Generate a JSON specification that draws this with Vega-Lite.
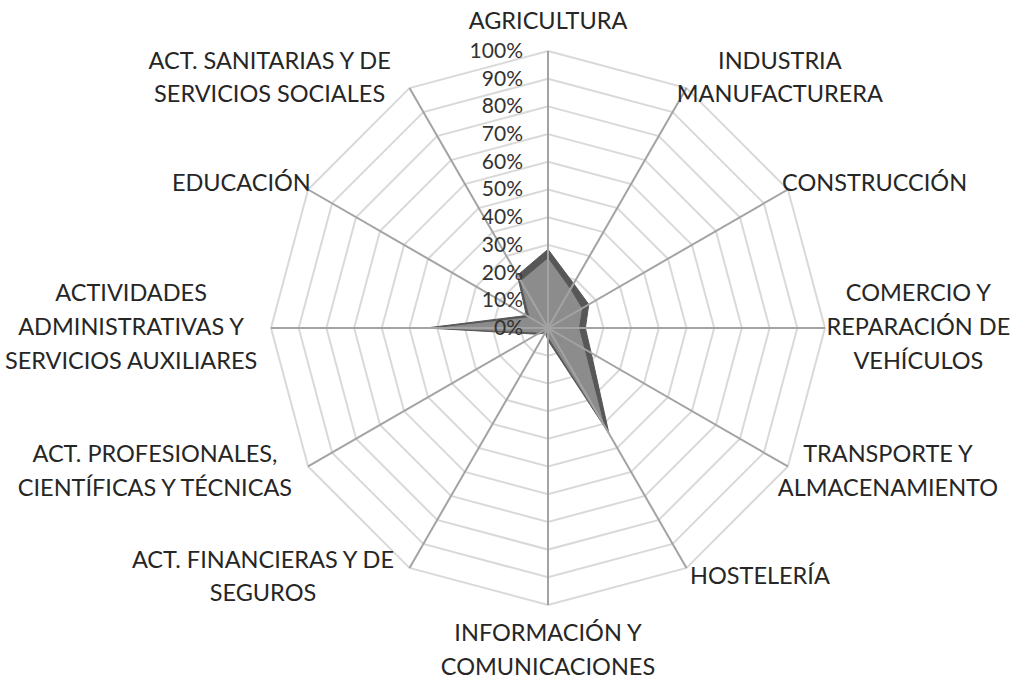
{
  "$schema": "https://vega.github.io/schema/vega-lite/v6.json",
  "width": 1024,
  "height": 680,
  "autosize": {"type": "none"},
  "padding": 0,
  "background": "white",
  "config": {"view": {"stroke": null}},
  "datasets": {
    "cats": [
      {"idx": 0, "category": "AGRICULTURA"},
      {"idx": 1, "category": "INDUSTRIA MANUFACTURERA"},
      {"idx": 2, "category": "CONSTRUCCIÓN"},
      {"idx": 3, "category": "COMERCIO Y REPARACIÓN DE VEHÍCULOS"},
      {"idx": 4, "category": "TRANSPORTE Y ALMACENAMIENTO"},
      {"idx": 5, "category": "HOSTELERÍA"},
      {"idx": 6, "category": "INFORMACIÓN Y COMUNICACIONES"},
      {"idx": 7, "category": "ACT. FINANCIERAS Y DE SEGUROS"},
      {"idx": 8, "category": "ACT. PROFESIONALES, CIENTÍFICAS Y TÉCNICAS"},
      {"idx": 9, "category": "ACTIVIDADES ADMINISTRATIVAS Y SERVICIOS AUXILIARES"},
      {"idx": 10, "category": "EDUCACIÓN"},
      {"idx": 11, "category": "ACT. SANITARIAS Y DE SERVICIOS SOCIALES"}
    ],
    "series": [
      {"idx": 0, "serie": "A", "value": 28.4},
      {"idx": 1, "serie": "A", "value": 18.5},
      {"idx": 2, "serie": "A", "value": 17},
      {"idx": 3, "serie": "A", "value": 13.5},
      {"idx": 4, "serie": "A", "value": 18},
      {"idx": 5, "serie": "A", "value": 44},
      {"idx": 6, "serie": "A", "value": 4.5},
      {"idx": 7, "serie": "A", "value": 2},
      {"idx": 8, "serie": "A", "value": 4.5},
      {"idx": 9, "serie": "A", "value": 44},
      {"idx": 10, "serie": "A", "value": 9},
      {"idx": 11, "serie": "A", "value": 22},
      {"idx": 0, "serie": "B", "value": 25},
      {"idx": 1, "serie": "B", "value": 16},
      {"idx": 2, "serie": "B", "value": 14},
      {"idx": 3, "serie": "B", "value": 11},
      {"idx": 4, "serie": "B", "value": 15},
      {"idx": 5, "serie": "B", "value": 40},
      {"idx": 6, "serie": "B", "value": 3},
      {"idx": 7, "serie": "B", "value": 1.5},
      {"idx": 8, "serie": "B", "value": 3},
      {"idx": 9, "serie": "B", "value": 39},
      {"idx": 10, "serie": "B", "value": 7.5},
      {"idx": 11, "serie": "B", "value": 19.5}
    ],
    "rings": [
      {"level": 10, "k": [0,1,2,3,4,5,6,7,8,9,10,11]},
      {"level": 20, "k": [0,1,2,3,4,5,6,7,8,9,10,11]},
      {"level": 30, "k": [0,1,2,3,4,5,6,7,8,9,10,11]},
      {"level": 40, "k": [0,1,2,3,4,5,6,7,8,9,10,11]},
      {"level": 50, "k": [0,1,2,3,4,5,6,7,8,9,10,11]},
      {"level": 60, "k": [0,1,2,3,4,5,6,7,8,9,10,11]},
      {"level": 70, "k": [0,1,2,3,4,5,6,7,8,9,10,11]},
      {"level": 80, "k": [0,1,2,3,4,5,6,7,8,9,10,11]},
      {"level": 90, "k": [0,1,2,3,4,5,6,7,8,9,10,11]},
      {"level": 100, "k": [0,1,2,3,4,5,6,7,8,9,10,11]}
    ],
    "ticks": [
      {"level": 0, "label": "0%"},
      {"level": 10, "label": "10%"},
      {"level": 20, "label": "20%"},
      {"level": 30, "label": "30%"},
      {"level": 40, "label": "40%"},
      {"level": 50, "label": "50%"},
      {"level": 60, "label": "60%"},
      {"level": 70, "label": "70%"},
      {"level": 80, "label": "80%"},
      {"level": 90, "label": "90%"},
      {"level": 100, "label": "100%"}
    ],
    "labels": [
      {"idx": 0, "line": 0, "text": "AGRICULTURA"},
      {"idx": 1, "line": 0, "text": "INDUSTRIA"},
      {"idx": 1, "line": 1, "text": "MANUFACTURERA"},
      {"idx": 2, "line": 0, "text": "CONSTRUCCIÓN"},
      {"idx": 3, "line": 0, "text": "COMERCIO Y"},
      {"idx": 3, "line": 1, "text": "REPARACIÓN DE"},
      {"idx": 3, "line": 2, "text": "VEHÍCULOS"},
      {"idx": 4, "line": 0, "text": "TRANSPORTE Y"},
      {"idx": 4, "line": 1, "text": "ALMACENAMIENTO"},
      {"idx": 5, "line": 0, "text": "HOSTELERÍA"},
      {"idx": 6, "line": 0, "text": "INFORMACIÓN Y"},
      {"idx": 6, "line": 1, "text": "COMUNICACIONES"},
      {"idx": 7, "line": 0, "text": "ACT. FINANCIERAS Y DE"},
      {"idx": 7, "line": 1, "text": "SEGUROS"},
      {"idx": 8, "line": 0, "text": "ACT. PROFESIONALES,"},
      {"idx": 8, "line": 1, "text": "CIENTÍFICAS Y TÉCNICAS"},
      {"idx": 9, "line": 0, "text": "ACTIVIDADES"},
      {"idx": 9, "line": 1, "text": "ADMINISTRATIVAS Y"},
      {"idx": 9, "line": 2, "text": "SERVICIOS AUXILIARES"},
      {"idx": 10, "line": 0, "text": "EDUCACIÓN"},
      {"idx": 11, "line": 0, "text": "ACT. SANITARIAS Y DE"},
      {"idx": 11, "line": 1, "text": "SERVICIOS SOCIALES"}
    ]
  },
  "layer": [
    {
      "data": {"name": "rings"},
      "transform": [
        {"flatten": ["k"]},
        {"calculate": "datum.level*sin(datum.k*PI/6)", "as": "x"},
        {"calculate": "datum.level*cos(datum.k*PI/6)", "as": "y"}
      ],
      "mark": {"type": "line", "interpolate": "linear-closed", "stroke": "#d9d9d9", "strokeWidth": 2},
      "encoding": {
        "x": {"field": "x", "type": "quantitative", "scale": {"domain": [-197.83, 171.84], "nice": false, "zero": false}, "axis": null},
        "y": {"field": "y", "type": "quantitative", "scale": {"domain": [-127.08, 118.41], "nice": false, "zero": false}, "axis": null},
        "detail": {"field": "level", "type": "nominal"},
        "order": {"field": "k", "type": "quantitative"}
      }
    },
    {
      "data": {"name": "series"},
      "transform": [
        {"filter": "datum.serie == 'A'"},
        {"calculate": "datum.value*sin(datum.idx*PI/6)", "as": "x"},
        {"calculate": "datum.value*cos(datum.idx*PI/6)", "as": "y"}
      ],
      "mark": {"type": "line", "interpolate": "linear-closed", "fill": "#575757", "stroke": "#575757", "strokeWidth": 1},
      "encoding": {
        "x": {"field": "x", "type": "quantitative", "scale": {"domain": [-197.83, 171.84], "nice": false, "zero": false}, "axis": null},
        "y": {"field": "y", "type": "quantitative", "scale": {"domain": [-127.08, 118.41], "nice": false, "zero": false}, "axis": null},
        "order": {"field": "idx", "type": "quantitative"}
      }
    },
    {
      "data": {"name": "series"},
      "transform": [
        {"filter": "datum.serie == 'B'"},
        {"calculate": "datum.value*sin(datum.idx*PI/6)", "as": "x"},
        {"calculate": "datum.value*cos(datum.idx*PI/6)", "as": "y"}
      ],
      "mark": {"type": "line", "interpolate": "linear-closed", "fill": "#8c8c8c", "stroke": "#8c8c8c", "strokeWidth": 1},
      "encoding": {
        "x": {"field": "x", "type": "quantitative", "scale": {"domain": [-197.83, 171.84], "nice": false, "zero": false}, "axis": null},
        "y": {"field": "y", "type": "quantitative", "scale": {"domain": [-127.08, 118.41], "nice": false, "zero": false}, "axis": null},
        "order": {"field": "idx", "type": "quantitative"}
      }
    },
    {
      "data": {"name": "cats"},
      "transform": [
        {"calculate": "100*sin(datum.idx*PI/6)", "as": "x2"},
        {"calculate": "100*cos(datum.idx*PI/6)", "as": "y2"},
        {"calculate": "0", "as": "x"},
        {"calculate": "0", "as": "y"}
      ],
      "mark": {"type": "rule", "stroke": "#a3a3a3", "strokeWidth": 2},
      "encoding": {
        "x": {"field": "x", "type": "quantitative", "scale": {"domain": [-197.83, 171.84], "nice": false, "zero": false}, "axis": null},
        "y": {"field": "y", "type": "quantitative", "scale": {"domain": [-127.08, 118.41], "nice": false, "zero": false}, "axis": null},
        "x2": {"field": "x2"},
        "y2": {"field": "y2"}
      }
    },
    {
      "data": {"name": "ticks"},
      "transform": [
        {"calculate": "0", "as": "x"}
      ],
      "mark": {"type": "text", "align": "right", "baseline": "middle", "dx": -25, "dy": 1, "font": "Lato", "fontSize": 21, "fill": "#333333"},
      "encoding": {
        "x": {"field": "x", "type": "quantitative", "scale": {"domain": [-197.83, 171.84], "nice": false, "zero": false}, "axis": null},
        "y": {"field": "level", "type": "quantitative", "scale": {"domain": [-127.08, 118.41], "nice": false, "zero": false}, "axis": null},
        "text": {"field": "label"}
      }
    },
    {
      "data": {"name": "labels"},
      "transform": [
        {"calculate": "length(datum.text)", "as": "len"},
        {"joinaggregate": [{"op": "max", "field": "len", "as": "maxLen"}, {"op": "count", "as": "n"}], "groupby": ["idx"]},
        {"calculate": "sin(datum.idx*PI/6)", "as": "s"},
        {"calculate": "cos(datum.idx*PI/6)", "as": "c"},
        {"calculate": "abs(datum.s) < 0.01 ? 0 : (datum.s > 0 ? 1 : -1)", "as": "side"},
        {"calculate": "100*datum.s + datum.side*(2.5 + 2.4*datum.maxLen)", "as": "x"},
        {"calculate": "(datum.side == 0 ? datum.c*(104.5 + datum.n*6.05) : 104*datum.c) - (datum.line - (datum.n - 1)/2)*12.1", "as": "y"}
      ],
      "mark": {"type": "text", "align": "center", "baseline": "middle", "font": "Lato", "fontSize": 23.5, "fill": "#262626"},
      "encoding": {
        "x": {"field": "x", "type": "quantitative", "scale": {"domain": [-197.83, 171.84], "nice": false, "zero": false}, "axis": null},
        "y": {"field": "y", "type": "quantitative", "scale": {"domain": [-127.08, 118.41], "nice": false, "zero": false}, "axis": null},
        "text": {"field": "text"}
      }
    }
  ]
}
